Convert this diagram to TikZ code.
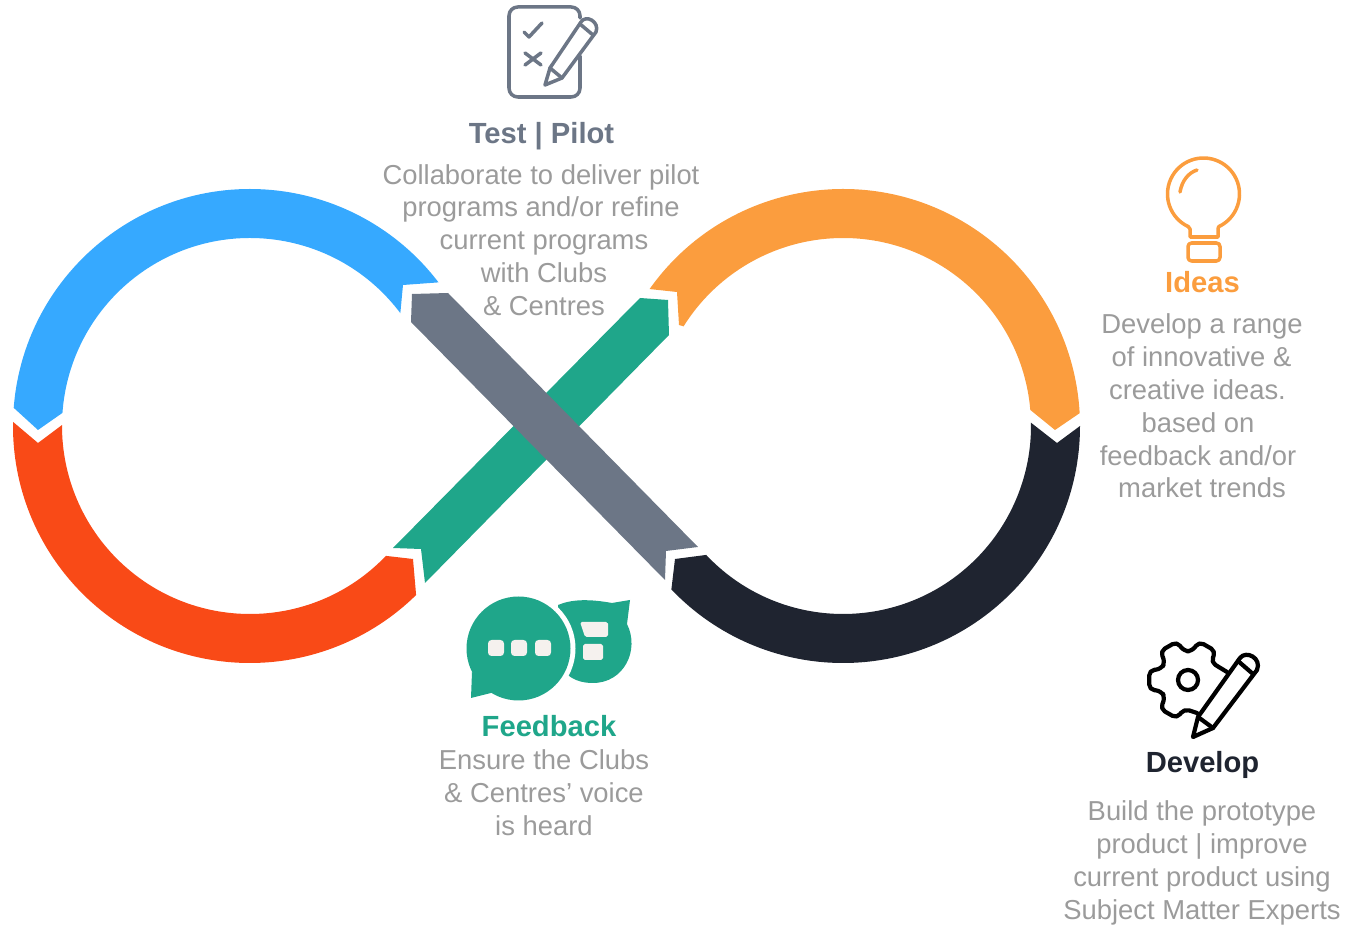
\documentclass[tikz,border=0pt]{standalone}
\usepackage{fontspec}
\setmainfont{Liberation Sans}
\definecolor{ringblue}{HTML}{36A9FF}
\definecolor{ringorange}{HTML}{FB9D3E}
\definecolor{ringred}{HTML}{F94A17}
\definecolor{ringdark}{HTML}{1F2430}
\definecolor{bandteal}{HTML}{1FA68A}
\definecolor{bandgray}{HTML}{6C7686}
\definecolor{bodygray}{HTML}{9B9B9B}
\definecolor{paper}{HTML}{F5F1EE}
\newcommand{\nudge}[1]{\hspace*{#1}}
\begin{document}
\begin{tikzpicture}[x=0.02cm,y=-0.02cm]
\tikzstyle{every node}=[inner sep=0pt]
\tikzstyle{heading}=[font={\fontsize{16.6}{19}\selectfont\bfseries}]
\tikzstyle{body}=[font={\fontsize{15.6}{18.7}\selectfont},text=bodygray,align=center]
\tikzstyle{icon}=[line width=2pt,line join=round,line cap=round]
\useasboundingbox (0,0) rectangle (1347,925);
\coordinate (LeftC)  at (250,426);
\coordinate (RightC) at (843,426);
\coordinate (GearC)  at (1188,680);
\coordinate (BulbC)  at (1203.5,194);
% the rings
\fill [ringblue] ([shift={(184.4:237)}]LeftC) arc [start angle=184.4,end angle=322.7,radius=237] -- (403,285) -- ([shift={(323.1:188)}]LeftC) arc [start angle=323.1,end angle=184,radius=188] -- (38,430) -- cycle;
\fill [ringred] ([shift={(181:237)}]LeftC) arc [start angle=181,end angle=45.5,radius=237] -- (413,559) -- ([shift={(43.7:188)}]LeftC) arc [start angle=43.7,end angle=180.3,radius=188] -- (38,443) -- cycle;
\fill [ringorange] ([shift={(215.3:237)}]RightC) arc [start angle=215.3,end angle=356.9,radius=237] -- (1055,430) -- ([shift={(355.1:188)}]RightC) arc [start angle=355.1,end angle=212,radius=188] -- (679,325) -- (677,292) -- cycle;
\fill [ringdark] ([shift={(0:237)}]RightC) arc [start angle=0,end angle=136.4,radius=237] -- (675,559) -- ([shift={(136.7:188)}]RightC) arc [start angle=136.7,end angle=-1,radius=188] -- (1057,443) -- cycle;
% the crossing bands
\fill [bandteal] (393,548) -- (640,298) -- (668,300) -- (669,335) -- (425,583) -- (421,549) -- cycle;
\fill [bandgray] (412,294) -- (448,293) -- (698,547) -- (666,551) -- (665,580) -- (411,322) -- cycle;
% clipboard
\begin{scope}[icon,draw=bandgray]
\draw [rounded corners=5pt] (580,18) -- (580,7) -- (509,7) -- (509,97) -- (580,97) -- (580,56);
\draw (524,32) -- (529,37) -- (542,23);
\draw (525,53) -- (541,65) (541,53) -- (525,65);
\draw (545,85) -- (550,68) -- (581,22) .. controls (586,14) and (600,22) .. (596,32) -- (562,78) -- cycle;
\draw (550,68) -- (562,78) (580,24) -- (593,35);
\end{scope}
% bulb
\begin{scope}[icon,draw=ringorange]
\draw (1190,237) -- (1190,229) -- ([shift={(115:36)}]BulbC) arc [start angle=115,end angle=425,radius=36] -- (1218,229) -- (1218,237) -- cycle;
\draw [rounded corners=2pt] (1188,243) rectangle (1220,261);
\draw (1180,192) .. controls (1182,181) and (1188,173) .. (1197,170);
\end{scope}
% speech bubbles
\fill [bandteal] (558,605) .. controls (572,599) and (590,599) .. (612,603) -- (630,600) -- (627,624) .. controls (640,650) and (624,683) .. (593,683) .. controls (575,683) and (565,675) .. (560,665) -- cycle;
\fill [white] (518.5,648.5) circle (57);
\fill [bandteal] (518.5,648.5) circle (52);
\fill [bandteal] (472,672) -- (471,698) -- (495,692) -- cycle;
\fill [paper,rounded corners=2pt] (488,640) rectangle (504,656) (511,640) rectangle (527,656) (535,640) rectangle (551,656);
\fill [paper,rounded corners=1pt] (580,622) -- (608,622) -- (608,637) -- (585,637) -- cycle;
\fill [paper,rounded corners=1pt] (583,644) rectangle (603,660);
% gear and pencil
\begin{scope}[icon,draw=black,line width=2.4pt]
\draw [rounded corners=3pt] (1197,713)
  -- ([shift={(98:29)}]GearC) -- ([shift={(106:40)}]GearC) -- ([shift={(134:40)}]GearC) -- ([shift={(142:29)}]GearC)
  -- ([shift={(158:29)}]GearC) -- ([shift={(166:40)}]GearC) -- ([shift={(194:40)}]GearC) -- ([shift={(202:29)}]GearC)
  -- ([shift={(218:29)}]GearC) -- ([shift={(226:40)}]GearC) -- ([shift={(254:40)}]GearC) -- ([shift={(262:29)}]GearC)
  -- ([shift={(278:29)}]GearC) -- ([shift={(286:40)}]GearC) -- ([shift={(314:40)}]GearC) -- ([shift={(322:29)}]GearC)
  -- (1227,672);
\draw (GearC) circle (10);
\draw (1193,737) -- (1198,717) -- (1240,658) .. controls (1246,650) and (1262,658) .. (1257,670) -- (1213,728) -- cycle;
\draw (1198,717) -- (1213,728) (1238,661) -- (1253,674);
\end{scope}
% labels
\node (TestHead) [heading,text=bandgray] at (541.5,136.5) {Test | Pilot};
\node (TestText) [body] at (541,240) {Collaborate to deliver pilot\\programs and/or refine\\\nudge{3.4pt}current programs\\\nudge{3.4pt}with Clubs\\\nudge{3.4pt}\& Centres};
\node (IdeasHead) [heading,text=ringorange] at (1202.5,282) {Ideas};
\node (IdeasText) [body] at (1199,406) {\nudge{3.4pt}Develop a range\\\nudge{2.8pt}of innovative \&\\\nudge{-1.7pt}creative ideas.\\\nudge{-1.1pt}based on\\\nudge{-1.1pt}feedback and/or\\\nudge{3.4pt}market trends};
\node (FeedHead) [heading,text=bandteal] at (549,726) {Feedback};
\node (FeedText) [body] at (544,793) {Ensure the Clubs\\\& Centres’ voice\\is heard};
\node (DevHead) [heading,text=ringdark] at (1202.5,765) {Develop};
\node (DevText) [body] at (1202,863) {Build the prototype\\product | improve\\current product using\\Subject Matter Experts};
\end{tikzpicture}
\end{document}
